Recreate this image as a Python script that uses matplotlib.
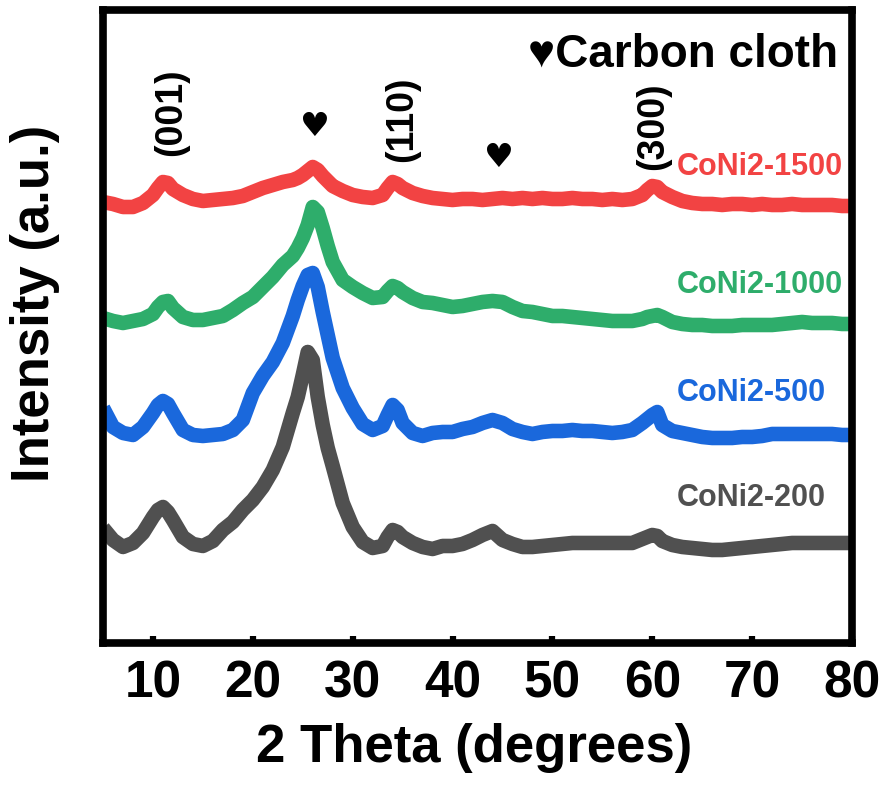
import numpy as np
import matplotlib
matplotlib.use('Agg')
import matplotlib.pyplot as plt

plt.rcParams['font.family'] = ['Liberation Sans', 'DejaVu Sans']
plt.rcParams['font.weight'] = 'bold'

# 2 theta grid (degrees)
two_theta = [5, 6, 7, 8, 9, 10,
             10.5, 11, 11.5,
             12, 13, 14, 15, 16, 17, 18, 19, 20, 21, 22, 23, 24,
             24.5, 25, 25.5, 26, 26.5, 27, 27.5,
             28, 29, 30, 31, 32, 33,
             33.5, 34, 34.5,
             35, 36, 37, 38, 39, 40, 41, 42, 43, 44, 45, 46, 47, 48, 49,
             50, 51, 52, 53, 54, 55, 56, 57, 58, 59,
             59.5, 60, 60.5,
             61, 62, 63, 64, 65, 66, 67, 68, 69, 70, 71, 72, 73, 74, 75,
             76, 77, 78, 79, 80]

# stacked intensities (a.u.)
coni2_1500 = [441, 439, 436, 436, 440, 448,
              455, 461, 460,
              454, 448, 444, 442, 443, 444, 445, 447, 451, 455, 458, 461, 463,
              465, 468, 472, 476, 473, 467, 462,
              457, 452, 448, 446, 445, 448,
              455, 461, 459,
              455, 450, 447, 445, 444, 443, 444, 444, 443, 444, 445, 444, 445,
              444, 445, 444, 444, 445, 444, 444, 443, 444, 443, 444, 448,
              453, 457, 456,
              451, 446, 442, 440, 439, 439, 438, 439, 439, 438, 439, 438, 438,
              439, 438, 438, 438, 438, 437, 437]
coni2_1000 = [325, 322, 320, 322, 324, 329,
              336, 341, 342,
              335, 326, 323, 323, 325, 327, 333, 340, 346, 356, 366, 378, 387,
              395, 405, 418, 436, 431, 415, 397,
              381, 363, 356, 350, 345, 346,
              352, 357, 355,
              351, 345, 341, 340, 338, 336, 337, 339, 341, 342, 341, 336, 332,
              331, 329, 327, 327, 326, 325, 324, 323, 322, 322, 322, 324,
              326, 327, 328,
              326, 321, 319, 318, 318, 317, 317, 317, 318, 318, 318, 318, 319,
              320, 321, 320, 320, 320, 319, 319]
coni2_500 = [235, 216, 210, 208, 216, 230,
             238, 242, 239,
             230, 213, 208, 207, 208, 209, 213, 223, 250, 267, 281, 300, 327,
             343, 357, 368, 370, 356, 331, 308,
             285, 255, 235, 219, 213, 217,
             228, 238, 233,
             220, 210, 207, 210, 211, 211, 214, 216, 220, 223, 220, 214, 211,
             209, 211, 212, 212, 213, 212, 212, 211, 210, 211, 213, 220,
             224, 228, 231,
             218, 212, 210, 208, 206, 205, 205, 205, 206, 206, 207, 209, 209,
             209, 209, 209, 209, 209, 208, 208]
coni2_200 = [115, 103, 96, 100, 110, 126,
             133, 136, 131,
             123, 106, 99, 97, 102, 113, 121, 133, 143, 156, 173, 196, 230,
             246, 268, 291, 283, 246, 218, 195,
             177, 140, 116, 101, 95, 97,
             106, 113, 111,
             106, 100, 96, 94, 97, 97, 99, 103, 108, 112, 103, 99, 96,
             96, 97, 98, 99, 100, 100, 100, 100, 100, 100, 100, 104,
             106, 108, 107,
             102, 98, 96, 95, 94, 93, 93, 94, 95, 96, 97, 98, 99,
             100, 100, 100, 100, 100, 100, 100]

names = ['CoNi2-1500', 'CoNi2-1000', 'CoNi2-500', 'CoNi2-200']
series = [coni2_1500, coni2_1000, coni2_500, coni2_200]
colors = ['#F24343', '#2EAD6B', '#1A68DC', '#505050']
label_y = [476, 358, 250, 145]

# peak labels: (text, 2theta, height)
peaks = [('(001)', 11.8, 531), ('(110)', 35.0, 524), ('(300)', 60.1, 517)]
hearts = [(26.1, 516), (44.5, 485)]

fig = plt.figure(figsize=(8.82, 7.87), dpi=100)
ax = fig.add_axes([0.1168, 0.1830, 0.8492, 0.8043])

for vals, c in zip(series, colors):
    ax.plot(two_theta, vals, color=c, lw=10.5, solid_joinstyle='round',
            solid_capstyle='butt')

for name, c, ly in zip(names, colors, label_y):
    ax.text(62.5, ly, name, color=c, fontsize=22, fontweight='bold',
            ha='left', va='center')

for t, px, py in peaks:
    ax.text(px, py, t, rotation=90, fontsize=27, fontweight='bold',
            ha='center', va='center')
for px, py in hearts:
    ax.text(px, py, u'\u2665', fontsize=24, ha='center', va='center',
            family='DejaVu Sans')

ax.text(0.981, 0.930, u'\u2665Carbon cloth', transform=ax.transAxes,
        fontsize=33, fontweight='bold', ha='right', va='center')

ax.set_xlim(5, 80)
ax.set_ylim(0, 633)
ax.set_xticks(np.arange(10, 81, 10))
ax.set_xticks(np.arange(15, 80, 10), minor=True)
ax.set_yticks([])
ax.tick_params(axis='x', which='major', direction='in', length=5, width=4.5,
               labelsize=37, pad=12)
ax.tick_params(axis='x', which='minor', direction='in', length=2, width=4.5)
for lab in ax.get_xticklabels():
    lab.set_fontweight('bold')
for s in ax.spines.values():
    s.set_linewidth(5.5)
    s.set_zorder(5)

fig.text(474 / 882, 1 - 748 / 787, '2 Theta (degrees)', fontsize=38,
         fontweight='bold', ha='center', va='center')
fig.text(35 / 882, 1 - 303 / 787, 'Intensity (a.u.)', fontsize=38,
         fontweight='bold', ha='center', va='center', rotation=90)

plt.savefig('out.png', dpi=100)
